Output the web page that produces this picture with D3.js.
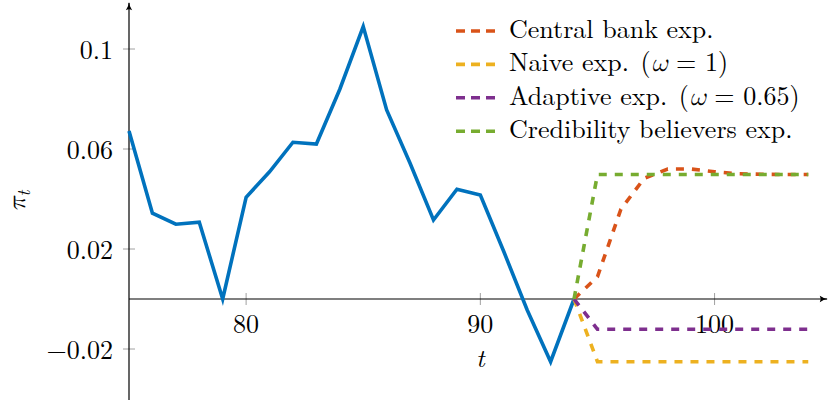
<!DOCTYPE html>
<html>
<head>
<meta charset="utf-8">
<script src="https://cdn.jsdelivr.net/npm/d3@7"></script>
<style>
  html, body { margin: 0; padding: 0; background: #fff; }
  svg { display: block; }
</style>
</head>
<body>
<svg id="chart" width="829" height="405"></svg>
<script>
// Observed inflation, t = 75 .. 94
const histT = d3.range(75, 95);
const histPi = [0.0672, 0.0343, 0.0299, 0.0307, 0.0000, 0.0407, 0.0509, 0.0627, 0.0620, 0.0839,
                0.1090, 0.0756, 0.0543, 0.0316, 0.0439, 0.0416, 0.0190, -0.0044, -0.0251, 0.0000];

// Expectation paths, t = 94 .. 104
const fcT = d3.range(94, 105);
const centralBank = [0.0000, 0.0089, 0.0359, 0.0483, 0.0520, 0.0520, 0.0509, 0.0501, 0.0499, 0.0498, 0.0498];
const naive       = [0.0000, -0.0251, -0.0251, -0.0251, -0.0251, -0.0251, -0.0251, -0.0251, -0.0251, -0.0251, -0.0251];
const adaptive    = [0.0000, -0.0121, -0.0121, -0.0121, -0.0121, -0.0121, -0.0121, -0.0121, -0.0121, -0.0121, -0.0121];
const credibility = [0.0000, 0.0498, 0.0498, 0.0498, 0.0498, 0.0498, 0.0498, 0.0498, 0.0498, 0.0498, 0.0498];

const xTicks = [80, 90, 100];
const yTicks = [-0.02, 0.02, 0.06, 0.1];
const yTickLabels = ["\u22120.02", "0.02", "0.06", "0.1"];

const seriesNames = ["Central bank exp.", "Naive exp. (\u03C9 = 1)", "Adaptive exp. (\u03C9 = 0.65)", "Credibility believers exp."];
const seriesColors = ["#D95319", "#EDB120", "#7E2F8E", "#77AC30"];
const seriesValues = [centralBank, naive, adaptive, credibility];

const FONT = '"Latin Modern Roman"';
const MATH = '"Latin Modern Math", "Latin Modern Roman"';
const svg = d3.select("#chart");

const x = d3.scaleLinear().domain([75, 104.8]).range([129, 827]);
const y = d3.scaleLinear().domain([-0.0404, 0.1184]).range([400, 3]);

// arrow heads for the axes
const defs = svg.append("defs");
defs.append("marker")
  .attr("id", "arrow")
  .attr("viewBox", "0 0 10 10")
  .attr("refX", 9).attr("refY", 5)
  .attr("markerWidth", 9).attr("markerHeight", 9)
  .attr("markerUnits", "userSpaceOnUse")
  .attr("orient", "auto")
  .append("path")
  .attr("d", "M1,1.5 Q5,4.5 10,5 Q5,5.5 1,8.5 Q3,5 1,1.5 Z")
  .attr("fill", "#000");

// tick marks
const tickColor = "#a0a0a0";
svg.append("g").selectAll("line").data(xTicks).join("line")
  .attr("x1", d => x(d)).attr("x2", d => x(d))
  .attr("y1", y(0) - 6).attr("y2", y(0) + 6)
  .attr("stroke", tickColor).attr("stroke-width", 1);
svg.append("g").selectAll("line").data(yTicks).join("line")
  .attr("x1", x(75) - 6).attr("x2", x(75) + 6)
  .attr("y1", d => y(d)).attr("y2", d => y(d))
  .attr("stroke", tickColor).attr("stroke-width", 1);

// axes lines through the origin
svg.append("line")
  .attr("x1", x(75)).attr("x2", x(104.8))
  .attr("y1", y(0)).attr("y2", y(0))
  .attr("stroke", "#000").attr("stroke-width", 1.2)
  .attr("marker-end", "url(#arrow)");
svg.append("line")
  .attr("x1", x(75)).attr("x2", x(75))
  .attr("y1", y(-0.0404)).attr("y2", y(0.1184))
  .attr("stroke", "#000").attr("stroke-width", 1.2)
  .attr("marker-end", "url(#arrow)");

// tick labels
svg.append("g").selectAll("text").data(xTicks).join("text")
  .attr("x", d => x(d)).attr("y", y(0) + 34)
  .attr("text-anchor", "middle")
  .style("font-family", FONT)
  .attr("font-size", 26)
  .text(d => d);
svg.append("g").selectAll("text").data(yTicks).join("text")
  .attr("x", x(75) - 16).attr("y", d => y(d) + 9.5)
  .attr("text-anchor", "end")
  .style("font-family", FONT)
  .attr("font-size", 26)
  .text((d, i) => yTickLabels[i]);

// axis titles
svg.append("text")
  .attr("x", x(90)).attr("y", y(0) + 67.5)
  .attr("text-anchor", "middle")
  .style("font-family", FONT)
  .attr("font-size", 26)
  .attr("font-style", "italic")
  .text("t");
const yTitle = svg.append("text")
  .attr("transform", `translate(${25},${201}) rotate(-90)`)
  .attr("text-anchor", "middle")
  .attr("font-size", 26)
  .attr("font-style", "italic");
yTitle.append("tspan").style("font-family", MATH).text("\u03C0");
yTitle.append("tspan").style("font-family", FONT).attr("font-size", 18).attr("dy", 5).text("t");

const line = d3.line().x(d => x(d[0])).y(d => y(d[1]));

// observed inflation
svg.append("path")
  .datum(histT.map((t, i) => [t, histPi[i]]))
  .attr("d", line)
  .attr("fill", "none")
  .attr("stroke", "#0072BD")
  .attr("stroke-width", 3.6)
  .attr("stroke-linejoin", "miter");

// expectation paths
seriesValues.forEach((vals, k) => {
  svg.append("path")
    .datum(fcT.map((t, i) => [t, vals[i]]))
    .attr("d", line)
    .attr("fill", "none")
    .attr("stroke", seriesColors[k])
    .attr("stroke-width", 3.6)
    .attr("stroke-dasharray", "8,8");
});

// legend
const legend = svg.append("g");
seriesNames.forEach((name, k) => {
  const ly = 31 + k * 33.4;
  legend.append("line")
    .attr("x1", 456).attr("x2", 496)
    .attr("y1", ly).attr("y2", ly)
    .attr("stroke", seriesColors[k])
    .attr("stroke-width", 3.6)
    .attr("stroke-dasharray", "9,6");
  const t = legend.append("text")
    .attr("x", 509).attr("y", ly + 7)
    .style("font-family", FONT)
    .attr("font-size", 26);
  const m = name.match(/^(.*)\((\u03C9)( = )(.*)\)$/);
  if (m) {
    t.append("tspan").text(m[1]);
    t.append("tspan").attr("dx", 3).text("(");
    t.append("tspan").style("font-family", MATH).attr("font-style", "italic").text(m[2]);
    t.append("tspan").attr("xml:space", "preserve").text(" = ");
    t.append("tspan").text(m[4] + ")");
  } else {
    t.text(name);
  }
});
</script>
</body>
</html>
